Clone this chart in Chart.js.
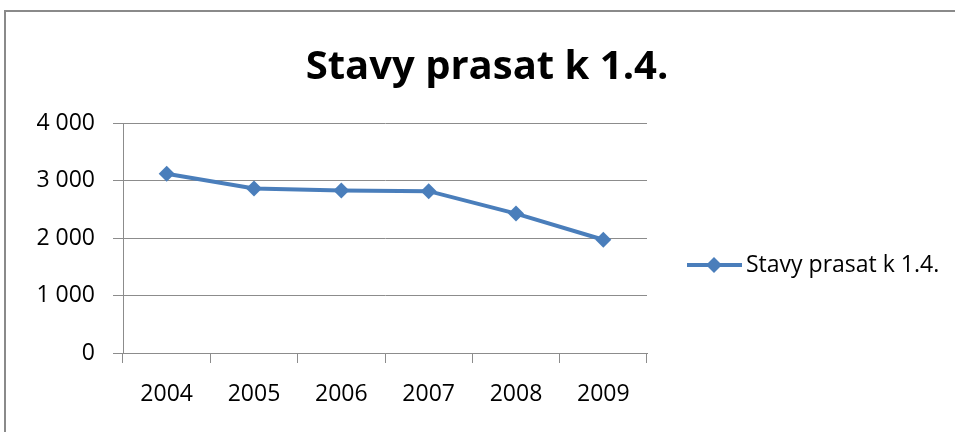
<!DOCTYPE html>
<html>
<head>
<meta charset="utf-8">
<title>Stavy prasat k 1.4.</title>
<script src="https://cdn.jsdelivr.net/npm/chart.js@4"></script>
<style>
  html, body { margin: 0; padding: 0; background: #fff; overflow: hidden; }
  #wrap { position: relative; width: 955px; height: 432px; overflow: hidden; }
  #frame {
    position: absolute; left: 4px; top: 10px; width: 1000px; height: 500px;
    border: 2px solid #8a8a8a; box-sizing: border-box;
  }
  canvas { position: absolute; left: 0; top: 0; }
</style>
</head>
<body>
<div id="wrap">
  <div id="frame"></div>
  <canvas id="chart" width="955" height="432"></canvas>
</div>
<script>
const titleText = 'Stavy prasat k 1.4.';
const seriesName = 'Stavy prasat k 1.4.';
const years = ['2004', '2005', '2006', '2007', '2008', '2009'];
const pigs = [3117, 2860, 2825, 2815, 2425, 1970];
const yTicks = [0, 1000, 2000, 3000, 4000];

const blue = '#4a7ebb';
const gray = '#8c8c8c';
const font = '"Open Sans", "Liberation Sans", sans-serif';

// title and legend are drawn by hand so the plot area can keep its place
const overlay = {
  id: 'overlay',
  afterDraw(chart) {
    const ctx = chart.ctx;
    ctx.save();
    ctx.fillStyle = '#000';
    ctx.font = 'bold 40px ' + font;
    ctx.textAlign = 'center';
    ctx.textBaseline = 'alphabetic';
    ctx.fillText(titleText, 487, 79);

    const ly = 265;
    ctx.strokeStyle = blue;
    ctx.lineWidth = 4;
    ctx.beginPath();
    ctx.moveTo(687, ly);
    ctx.lineTo(742, ly);
    ctx.stroke();
    ctx.fillStyle = blue;
    ctx.beginPath();
    ctx.moveTo(714, ly - 8);
    ctx.lineTo(722, ly);
    ctx.lineTo(714, ly + 8);
    ctx.lineTo(706, ly);
    ctx.closePath();
    ctx.fill();

    ctx.fillStyle = '#000';
    ctx.font = '23px ' + font;
    ctx.textAlign = 'left';
    ctx.textBaseline = 'middle';
    ctx.fillText(seriesName, 746, ly);
    ctx.restore();
  }
};

new Chart(document.getElementById('chart'), {
  type: 'line',
  data: {
    labels: years,
    datasets: [{
      label: seriesName,
      data: pigs,
      borderColor: blue,
      backgroundColor: blue,
      borderWidth: 4,
      pointStyle: 'rectRot',
      pointRadius: 8,
      pointHoverRadius: 8,
      pointBorderWidth: 0,
      tension: 0
    }]
  },
  options: {
    responsive: false,
    animation: false,
    events: [],
    layout: { padding: { left: 0, top: 123, right: 308, bottom: 0 } },
    plugins: {
      legend: { display: false },
      title: { display: false },
      tooltip: { enabled: false }
    },
    scales: {
      x: {
        offset: true,
        grid: {
          offset: true,
          drawOnChartArea: false,
          drawTicks: true,
          tickLength: 10,
          color: gray
        },
        border: { color: gray, width: 1 },
        ticks: { color: '#000', font: { family: font, size: 23 }, padding: 18 },
        afterFit(scale) { scale.height = 432 - 353; }
      },
      y: {
        min: 0,
        max: 4000,
        afterBuildTicks(scale) { scale.ticks = yTicks.map(v => ({ value: v })); },
        grid: { color: gray, tickLength: 10, drawTicks: true },
        border: { color: gray, width: 1 },
        ticks: {
          color: '#000',
          font: { family: font, size: 23 },
          padding: 18,
          callback: v => v.toString().replace(/\B(?=(\d{3})+(?!\d))/g, ' ')
        },
        afterFit(scale) { scale.width = 123; }
      }
    }
  },
  plugins: [overlay]
});
</script>
</body>
</html>
